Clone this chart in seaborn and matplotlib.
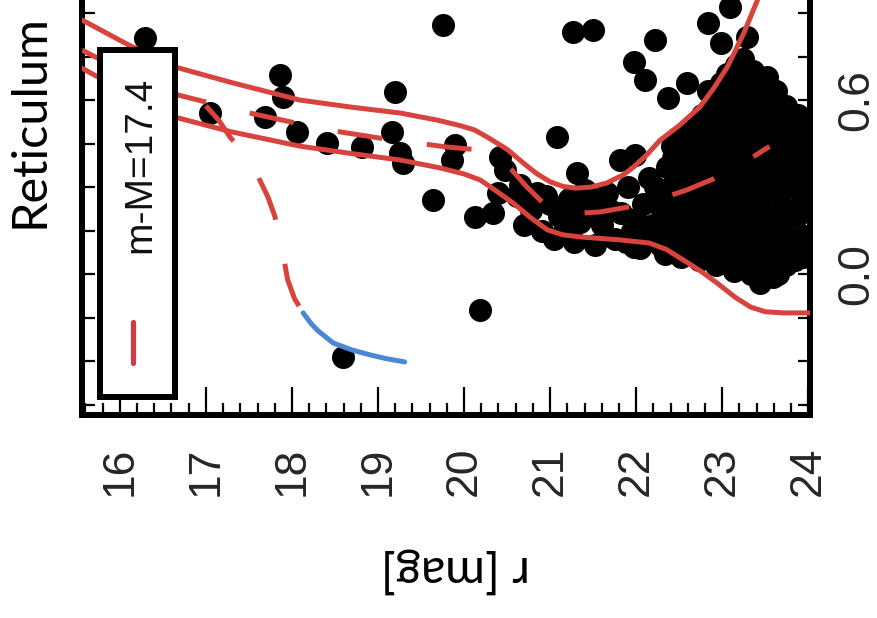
import matplotlib
matplotlib.use("Agg")
import matplotlib.pyplot as plt
import seaborn as sns
from matplotlib.ticker import MultipleLocator, FixedLocator, FormatStrFormatter
from matplotlib.patches import Rectangle
from matplotlib.lines import Line2D

# ---------------- data ----------------
# isochrone envelope (r magnitude, g-r colour)
upper_r = [15.56, 16.10, 16.64, 17.30, 18.09, 18.70, 19.26, 19.70, 19.95, 20.12, 20.27, 20.50, 20.70,
           20.85, 21.00, 21.15, 21.30, 21.48, 21.66, 21.85, 21.97, 22.12, 22.28, 22.50, 22.74, 22.90,
           23.06, 23.25, 23.41, 23.62]
upper_c = [0.876, 0.790, 0.714, 0.660, 0.600, 0.575, 0.555, 0.530, 0.512, 0.497, 0.472, 0.430, 0.380,
           0.345, 0.318, 0.302, 0.296, 0.300, 0.314, 0.342, 0.369, 0.410, 0.462, 0.512, 0.576, 0.640,
           0.714, 0.830, 0.945, 1.080]

lower_r = [15.56, 16.10, 16.64, 17.30, 18.09, 18.70, 19.26, 19.72, 20.00, 20.19, 20.38, 20.57, 20.77,
           20.97, 21.15, 21.35, 21.80, 22.15, 22.35, 22.55, 22.75, 22.94, 23.15, 23.33, 23.50, 23.71,
           24.02]
lower_c = [0.710, 0.620, 0.541, 0.490, 0.441, 0.415, 0.393, 0.366, 0.345, 0.324, 0.285, 0.245, 0.195,
           0.152, 0.135, 0.128, 0.118, 0.107, 0.085, 0.048, 0.010, -0.031, -0.080, -0.114, -0.130, -0.134,
           -0.134]

mid_r = [15.56, 16.10, 16.64, 17.51, 18.41, 19.10, 19.80, 20.10, 20.34, 20.55, 20.73, 20.92, 21.12,
         21.35, 21.58, 21.85, 22.13, 22.59, 23.06, 23.55]
mid_c = [0.772, 0.690, 0.620, 0.555, 0.497, 0.465, 0.438, 0.430, 0.410, 0.360, 0.300, 0.245, 0.218,
         0.210, 0.214, 0.228, 0.245, 0.290, 0.348, 0.440]

hb_r = [17.00, 17.15, 17.28, 17.48, 17.60, 17.72, 17.80, 17.86, 17.95, 18.03, 18.13]
hb_c = [0.580, 0.530, 0.472, 0.403, 0.340, 0.266, 0.200, 0.128, -0.020, -0.085, -0.134]

bhb_r = [18.13, 18.22, 18.30, 18.48, 18.70, 18.91, 19.10, 19.31]
bhb_c = [-0.134, -0.170, -0.195, -0.238, -0.262, -0.279, -0.292, -0.303]

# stars
field_r = [16.29, 17.05, 17.86, 17.90, 17.69, 18.06, 18.41, 18.81, 19.76, 19.20, 19.16, 19.26, 19.29,
           19.90, 19.86, 19.64, 20.13, 20.34, 20.40, 20.42, 20.48, 20.65, 21.08, 20.19, 18.59, 21.27,
           21.50, 22.22, 21.97, 22.10, 22.37, 22.59, 21.31, 21.81, 21.99, 23.87, 23.44, 23.59, 21.97,
           22.74, 23.21, 23.79, 23.87, 23.71, 22.83, 23.09, 23.29, 22.98]
field_c = [0.814, 0.555, 0.686, 0.610, 0.541, 0.490, 0.452, 0.438, 0.859, 0.628, 0.490, 0.417, 0.383,
           0.445, 0.393, 0.255, 0.197, 0.210, 0.279, 0.403, 0.359, 0.307, 0.472, -0.124, -0.286, 0.834,
           0.841, 0.807, 0.731, 0.669, 0.607, 0.659, 0.348, 0.393, 0.410, 0.521, -0.031, -0.010, 0.093,
           0.093, 0.083, 0.093, 0.300, 0.231, 0.866, 0.921, 0.817, 0.797]

turnoff_r = [20.62, 20.78, 20.90, 20.95, 21.05, 21.10, 21.22, 21.28, 21.35, 21.45, 21.52, 21.60, 21.66,
             21.75, 21.82, 21.90, 21.95, 22.05, 22.08, 22.15, 22.20, 22.28,
             20.70, 20.85, 21.00, 21.15, 21.30, 21.40, 21.55, 21.70, 21.88, 22.00, 22.12, 22.25, 22.22]
turnoff_c = [0.27, 0.22, 0.15, 0.27, 0.12, 0.20, 0.26, 0.11, 0.18, 0.24, 0.10, 0.17, 0.28,
             0.12, 0.21, 0.30, 0.15, 0.09, 0.24, 0.33, 0.17, 0.10,
             0.17, 0.28, 0.24, 0.14, 0.22, 0.29, 0.21, 0.22, 0.11, 0.19, 0.13, 0.24, 0.30]

faint_r = [22.34, 22.38, 22.33, 22.40, 22.36, 22.42,
           22.52, 22.57, 22.55, 22.50, 22.58, 22.54, 22.60,
           22.73, 22.78, 22.72, 22.77, 22.74, 22.79, 22.71, 22.76,
           22.93, 22.97, 22.92, 22.98, 22.94, 22.99, 22.91, 22.96, 22.93, 22.98,
           23.14, 23.17, 23.12, 23.18, 23.15, 23.11, 23.19, 23.13, 23.17, 23.12, 23.16,
           23.33, 23.37, 23.32, 23.38, 23.36, 23.31, 23.39, 23.34, 23.37, 23.32, 23.36,
           23.56, 23.52, 23.58, 23.54, 23.57, 23.51, 23.56, 23.53, 23.58, 23.52,
           23.74, 23.77, 23.73, 23.78, 23.75, 23.72, 23.77, 23.74,
           23.94, 23.96, 23.93, 23.97, 23.95, 23.92,
           22.45, 22.47, 22.44, 22.46, 22.43, 22.48,
           22.65, 22.63, 22.67, 22.64, 22.66, 22.62, 22.68,
           22.85, 22.83, 22.87, 22.84, 22.86, 22.82, 22.88, 22.85, 22.83,
           23.05, 23.03, 23.07, 23.04, 23.06, 23.02, 23.08, 23.05, 23.03, 23.06,
           23.25, 23.23, 23.27, 23.24, 23.26, 23.22, 23.28, 23.25, 23.23, 23.26, 23.24,
           23.45, 23.43, 23.47, 23.44, 23.46, 23.42, 23.48, 23.45, 23.43, 23.46,
           23.65, 23.63, 23.67, 23.64, 23.66, 23.62, 23.68, 23.65, 23.63,
           23.85, 23.83, 23.87, 23.84, 23.86, 23.82, 23.88]
faint_c = [0.07, 0.15, 0.22, 0.30, 0.37, 0.44,
           0.06, 0.13, 0.21, 0.28, 0.35, 0.42, 0.49,
           0.05, 0.12, 0.19, 0.27, 0.34, 0.41, 0.47, 0.55,
           0.03, 0.11, 0.18, 0.25, 0.33, 0.39, 0.46, 0.53, 0.60, 0.66,
           0.01, 0.09, 0.16, 0.22, 0.30, 0.37, 0.44, 0.51, 0.58, 0.65, 0.72,
           0.00, 0.07, 0.14, 0.21, 0.29, 0.35, 0.42, 0.49, 0.56, 0.63, 0.70,
           0.05, 0.12, 0.19, 0.27, 0.34, 0.41, 0.48, 0.55, 0.62, 0.68,
           0.03, 0.10, 0.17, 0.30, 0.37, 0.44, 0.51, 0.58,
           0.06, 0.13, 0.25, 0.35, 0.43, 0.50,
           0.10, 0.18, 0.26, 0.33, 0.40, 0.47,
           0.09, 0.16, 0.24, 0.31, 0.38, 0.45, 0.52,
           0.07, 0.15, 0.22, 0.30, 0.37, 0.43, 0.50, 0.57, 0.63,
           0.05, 0.13, 0.20, 0.27, 0.34, 0.41, 0.48, 0.55, 0.62, 0.69,
           0.04, 0.11, 0.18, 0.25, 0.32, 0.39, 0.46, 0.53, 0.60, 0.67, 0.74,
           0.03, 0.10, 0.17, 0.24, 0.31, 0.38, 0.45, 0.52, 0.59, 0.66,
           0.00, 0.08, 0.15, 0.29, 0.36, 0.43, 0.50, 0.57, 0.63,
           0.05, 0.12, 0.20, 0.33, 0.40, 0.47, 0.55]

x_ticks = [16, 17, 18, 19, 20, 21, 22, 23, 24]
y_ticks = [0.0, 0.6]
legend_label = "m-M=17.4"

RED = "#d8433d"
BLUE = "#4a87d4"

# ---------------- figure ----------------
sns.set_theme(style="white")
plt.rcParams["font.family"] = ["Liberation Sans", "DejaVu Sans"]

fig = plt.figure(figsize=(8.77, 6.18), dpi=100)
ax = fig.add_axes([0.0935, 0.3285, 0.8301, 0.6974])

stars_r = field_r + turnoff_r + faint_r
stars_c = field_c + turnoff_c + faint_c
sns.scatterplot(x=stars_r, y=stars_c, color="black", s=275, linewidth=0,
                ax=ax, zorder=2, legend=False)

for xr, yc in [(upper_r, upper_c), (lower_r, lower_c)]:
    sns.lineplot(x=xr, y=yc, sort=False, estimator=None, color=RED, lw=3.6,
                 ax=ax, zorder=3)
for xr, yc in [(mid_r, mid_c), (hb_r, hb_c)]:
    sns.lineplot(x=xr, y=yc, sort=False, estimator=None, color=RED, lw=3.6,
                 linestyle=(0, (9, 9)), ax=ax, zorder=3)
sns.lineplot(x=bhb_r, y=bhb_c, sort=False, estimator=None, color=BLUE, lw=3.6,
             ax=ax, zorder=3)

ax.set_xlim(15.56, 24.02)
ax.set_ylim(-0.486, 1.0)
ax.set_xlabel("")
ax.set_ylabel("")

ax.xaxis.set_major_locator(FixedLocator(x_ticks))
ax.xaxis.set_minor_locator(MultipleLocator(0.2))
ax.tick_params(axis="x", which="major", direction="in", length=20, width=1.6,
               bottom=True, top=False, labelsize=32, pad=23, labelrotation=90,
               color="black")
ax.tick_params(axis="x", which="minor", direction="in", length=9, width=1.6,
               bottom=True, top=False, color="black")

ax.yaxis.set_major_locator(FixedLocator(y_ticks))
ax.yaxis.set_minor_locator(MultipleLocator(0.15))
ax.yaxis.set_major_formatter(FormatStrFormatter("%.1f"))
ax.tick_params(axis="y", which="both", direction="in", length=9, width=1.6,
               left=True, right=True, labelleft=False, labelright=True,
               labelsize=32, pad=19, labelrotation=90, color="black")
for lab in ax.get_yticklabels():
    lab.set_va("center")

for sp in ax.spines.values():
    sp.set_visible(True)
    sp.set_linewidth(4.3)
    sp.set_color("black")

# rotated legend box
ax.add_patch(Rectangle((0.0247, 0.0418), 0.103, 0.805, transform=ax.transAxes,
                       facecolor="white", edgecolor="black", lw=4.3, zorder=5))
ax.text(0.0797, 0.58, legend_label, rotation=90, ha="center", va="center",
        fontsize=28, transform=ax.transAxes, zorder=6, color="#111111")
ax.add_line(Line2D([0.070, 0.070], [0.121, 0.216], transform=ax.transAxes,
                   color="#c9404c", lw=3.8, zorder=6))

fig.text(30 / 877, 1 - 121 / 618, "Reticulum", rotation=90, ha="center",
         va="center", fontsize=35, family=["Lato", "DejaVu Sans"], color="black")
fig.text(455 / 877, 1 - 571 / 618, "r [mag]", rotation=180, ha="center",
         va="center", fontsize=35, family=["Lato", "DejaVu Sans"], color="black")

fig.savefig("out.png", dpi=100, facecolor="white")
